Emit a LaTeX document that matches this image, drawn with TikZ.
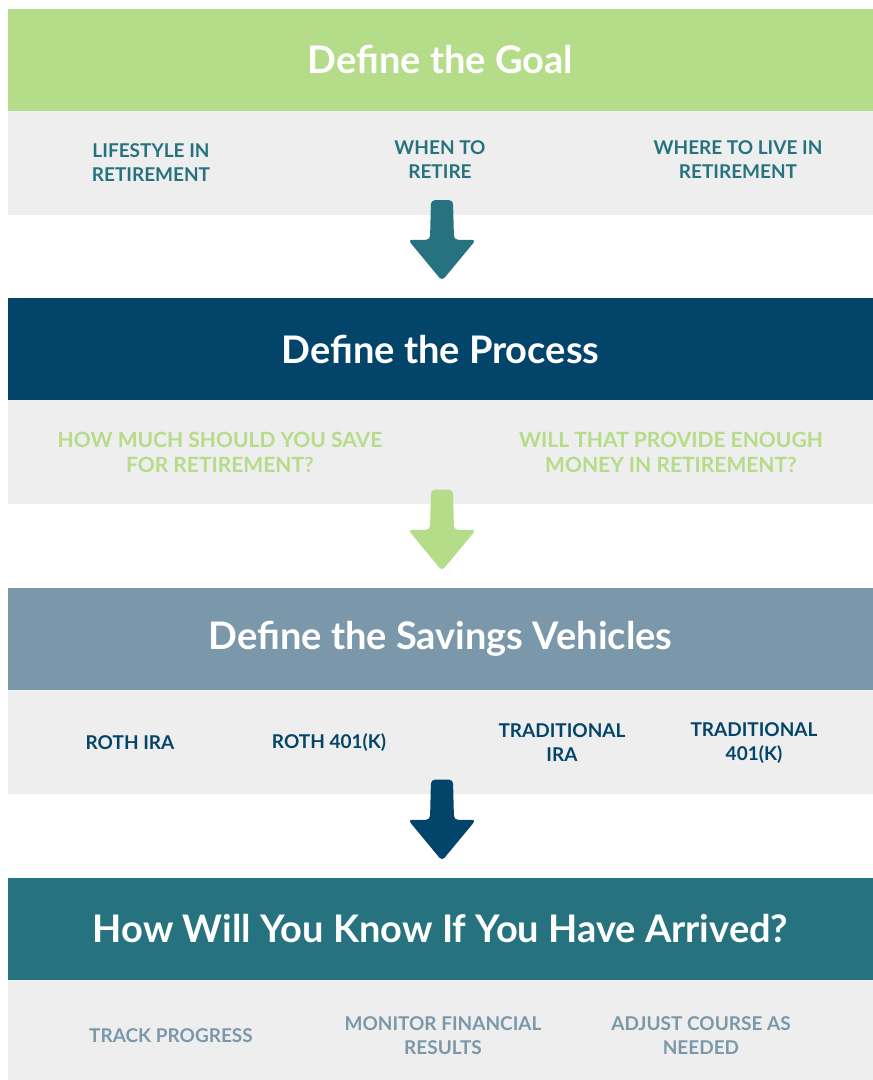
\documentclass[tikz,border=0pt]{standalone}
\usepackage{fontspec}
\setmainfont{Lato}
\usetikzlibrary{positioning,calc}
\definecolor{leaf}{HTML}{B5DD89}
\definecolor{navy}{HTML}{03446A}
\definecolor{slate}{HTML}{7B98AA}
\definecolor{deepteal}{HTML}{26737F}
\definecolor{shelfgray}{HTML}{EEEEEE}
\tikzset{band/.style={minimum width=865,minimum height=102,inner sep=0,text=white,font=\fontsize{38}{40}\selectfont\bfseries},
         shelf/.style={fill=shelfgray,minimum width=865,minimum height=104,inner sep=0},
         item/.style={font=\fontsize{19}{24}\selectfont\bfseries,align=center,inner sep=0},
         bigitem/.style={item,font=\fontsize{21}{25}\selectfont\bfseries}}
% block arrow hanging from one shelf down to the next band
\newcommand{\stepdown}[3]{%
  \coordinate (top) at ($(#2.south)+(1.5,-15)$);
  \coordinate (tip) at ($(#3.north)+(1.5,-17)$);
  \fill[#1,rounded corners=4pt] (top) -- ($(top)+(11,0)$) -- ($(tip)+(12,-41)$) -- ($(tip)+(34,-41)$) -- (tip)
     -- ($(tip)+(-34,-41)$) -- ($(tip)+(-12,-41)$) -- ($(top)+(-11,0)$) -- cycle;}
\begin{document}
\begin{tikzpicture}[x=1pt,y=-1pt]
\useasboundingbox[fill=white] (0,0) rectangle (873,1080);
\node[band,fill=leaf] (goal) at (440.5,59.5) {Define the Goal};
\node[shelf,below=0pt of goal] (goalrow) {};
\node[band,fill=navy] (process) at (440.5,349) {Define the Process};
\node[shelf,below=0pt of process] (processrow) {};
\node[band,fill=slate] (vehicles) at (440.5,639) {Define the Savings Vehicles};
\node[shelf,below=0pt of vehicles] (vehiclesrow) {};
\node[band,fill=deepteal] (arrived) at (440.5,929) {How Will You Know If You Have Arrived?};
\node[shelf,minimum height=100,below=0pt of arrived] (arrivedrow) {};
% row texts
\node[item,text=deepteal] (lifestyle) at (151,163) {LIFESTYLE IN\\RETIREMENT};
\node[item,text=deepteal] (when) at (440,160) {WHEN TO\\RETIRE};
\node[item,text=deepteal] (where) at (738,160) {WHERE TO LIVE IN\\RETIREMENT};
\node[bigitem,text=leaf] (howmuch) at (220,452) {HOW MUCH SHOULD YOU SAVE\\FOR RETIREMENT?};
\node[bigitem,text=leaf] (enough) at (671,452) {WILL THAT PROVIDE ENOUGH\\MONEY IN RETIREMENT?};
\node[item,text=navy] (rothira) at (130,743) {ROTH IRA};
\node[item,text=navy] (roth401) at (329,743) {ROTH 401(K)};
\node[item,text=navy] (tradira) at (562,743) {TRADITIONAL\\IRA};
\node[item,text=navy] (trad401) at (754,743) {TRADITIONAL\\401(K)};
\node[item,text=slate] (track) at (171,1036) {TRACK PROGRESS};
\node[item,text=slate] (monitor) at (443,1036) {MONITOR FINANCIAL\\RESULTS};
\node[item,text=slate] (adjust) at (701,1036) {ADJUST COURSE AS\\NEEDED};
% arrows between the stages
\stepdown{deepteal}{goalrow}{process}
\stepdown{leaf}{processrow}{vehicles}
\stepdown{navy}{vehiclesrow}{arrived}
\end{tikzpicture}
\end{document}
